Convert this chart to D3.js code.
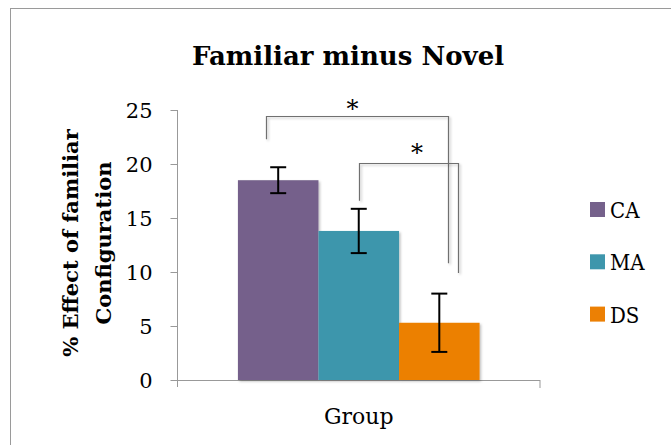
<!DOCTYPE html>
<html>
<head>
<meta charset="utf-8">
<script src="https://cdn.jsdelivr.net/npm/d3@7"></script>
<style>
  html, body { margin: 0; padding: 0; background: #fff; }
  svg { display: block; }
</style>
</head>
<body>
<script>
// ---- data ----
const categories = ["Group"];
const series = ["CA", "MA", "DS"];
const values = [18.5, 13.8, 5.3];
const errors = [1.2, 2.05, 2.7];
const yTicks = [0, 5, 10, 15, 20, 25];
const colors = ["#75618B", "#3E96AC", "#EC8004"];
// significance brackets: from series, to series, bracket top value, left end value, right end value
const sigFrom = [0, 1];
const sigTo = [2, 2];
const sigTop = [24.45, 20.05];
const sigLeftEnd = [22.3, 16.6];
const sigRightEnd = [10.8, 9.9];
const sigLabel = ["*", "*"];

const W = 671, H = 445;
const font = "'DejaVu Serif', serif";
const fontC = "'DejaVu Serif Condensed', 'DejaVu Serif', serif";

const svg = d3.select("body").append("svg").attr("width", W).attr("height", H);

const defs = svg.append("defs");
const f = defs.append("filter").attr("id", "sh").attr("x", "-10%").attr("y", "-10%").attr("width", "130%").attr("height", "130%");
f.append("feDropShadow").attr("dx", 1.5).attr("dy", 1.5).attr("stdDeviation", 1.2).attr("flood-color", "#000").attr("flood-opacity", 0.25);

// outer border
svg.append("rect").attr("x", 10.5).attr("y", 8.5).attr("width", W + 20).attr("height", H + 20)
  .attr("fill", "none").attr("stroke", "#9a9a9a").attr("stroke-width", 1);

const plot = { left: 177.5, right: 540, top: 110, bottom: 380 };

const x = d3.scaleBand().domain(categories).range([plot.left, plot.right]).paddingInner(0).paddingOuter(0.25);
const xs = d3.scaleBand().domain(series).range([0, x.bandwidth()]).padding(0);
const y = d3.scaleLinear().domain([0, 25]).range([plot.bottom, plot.top]);

// title
svg.append("text").attr("x", 348).attr("y", 65).attr("text-anchor", "middle")
  .attr("font-family", font).attr("font-weight", "bold").attr("font-size", 26)
  .text("Familiar minus Novel");

// y axis
const yAxis = d3.axisLeft(y).tickValues(yTicks).tickSize(7).tickPadding(18).tickSizeOuter(0);
const gy = svg.append("g").attr("transform", `translate(${plot.left},0)`).call(yAxis);
gy.select(".domain").attr("stroke", "#999").attr("d", `M0,${plot.top}V${plot.bottom + 7}`);
gy.selectAll(".tick line").attr("stroke", "#999");
gy.selectAll(".tick text").attr("font-family", font).attr("font-size", 21).attr("fill", "#000").attr("dy", "0.35em");

// x axis
const gx = svg.append("g").attr("transform", `translate(0,${plot.bottom})`);
gx.append("line").attr("x1", plot.left).attr("x2", plot.right).attr("y1", 0.5).attr("y2", 0.5).attr("stroke", "#999");
gx.append("line").attr("x1", plot.right).attr("x2", plot.right).attr("y1", 0).attr("y2", 8).attr("stroke", "#999");
gx.append("text").attr("x", x(categories[0]) + x.bandwidth() / 2).attr("y", 44)
  .attr("text-anchor", "middle").attr("font-family", font).attr("font-size", 22).text(categories[0]);

// bars
const g = svg.append("g").attr("transform", `translate(${x(categories[0])},0)`);
g.selectAll("rect.bar").data(series).join("rect").attr("class", "bar")
  .attr("x", d => xs(d)).attr("width", xs.bandwidth())
  .attr("y", (d, i) => y(values[i])).attr("height", (d, i) => y(0) - y(values[i]))
  .attr("fill", (d, i) => colors[i]).attr("filter", "url(#sh)");

// error bars
const eb = g.selectAll("g.err").data(series).join("g").attr("class", "err")
  .attr("transform", d => `translate(${xs(d) + xs.bandwidth() / 2},0)`);
eb.append("line").attr("x1", 0).attr("x2", 0)
  .attr("y1", (d, i) => y(values[i] + errors[i])).attr("y2", (d, i) => y(values[i] - errors[i]))
  .attr("stroke", "#000").attr("stroke-width", 2);
eb.append("line").attr("x1", -8).attr("x2", 8)
  .attr("y1", (d, i) => y(values[i] + errors[i])).attr("y2", (d, i) => y(values[i] + errors[i]))
  .attr("stroke", "#000").attr("stroke-width", 2);
eb.append("line").attr("x1", -8).attr("x2", 8)
  .attr("y1", (d, i) => y(values[i] - errors[i])).attr("y2", (d, i) => y(values[i] - errors[i]))
  .attr("stroke", "#000").attr("stroke-width", 2);

// significance brackets
const leftOff = [-12, 0];
const rightOff = [9, 19];
const starDx = [-5, 8];
const starDy = [-1, -4];
const cx = i => x(categories[0]) + xs(series[i]) + xs.bandwidth() / 2;
sigFrom.forEach((fi, k) => {
  const x1 = Math.round(cx(fi) + leftOff[k]) + 0.5;
  const x2 = Math.round(cx(sigTo[k]) + rightOff[k]) + 0.5;
  const yt = Math.round(y(sigTop[k])) + 0.5;
  svg.append("path")
    .attr("d", `M${x1},${y(sigLeftEnd[k])}V${yt}H${x2}V${y(sigRightEnd[k])}`)
    .attr("fill", "none").attr("stroke", "#6f6f6f").attr("stroke-width", 1.2)
    .attr("filter", "url(#sh)");
  svg.append("text").attr("x", (x1 + x2) / 2 + starDx[k]).attr("y", yt + 1 + starDy[k])
    .attr("text-anchor", "middle").attr("font-family", font).attr("font-size", 24).text(sigLabel[k]);
});

// y axis title
const yt = svg.append("text").attr("transform", "translate(0,243) rotate(-90)")
  .attr("text-anchor", "middle").attr("font-family", font).attr("font-weight", "bold").attr("font-size", 21);
yt.append("tspan").attr("x", 0).attr("y", 78).text("% Effect of familiar");
yt.append("tspan").attr("x", 0).attr("y", 111).text("Configuration");

// legend
const lg = svg.append("g").attr("transform", "translate(590,202)");
const li = lg.selectAll("g").data(series).join("g").attr("transform", (d, i) => `translate(0,${i * 52.3})`);
li.append("rect").attr("width", 15).attr("height", 15).attr("fill", (d, i) => colors[i]);
li.append("text").attr("x", 20).attr("y", 16).attr("font-family", fontC).attr("font-size", 22).text(d => d);
</script>
</body>
</html>
